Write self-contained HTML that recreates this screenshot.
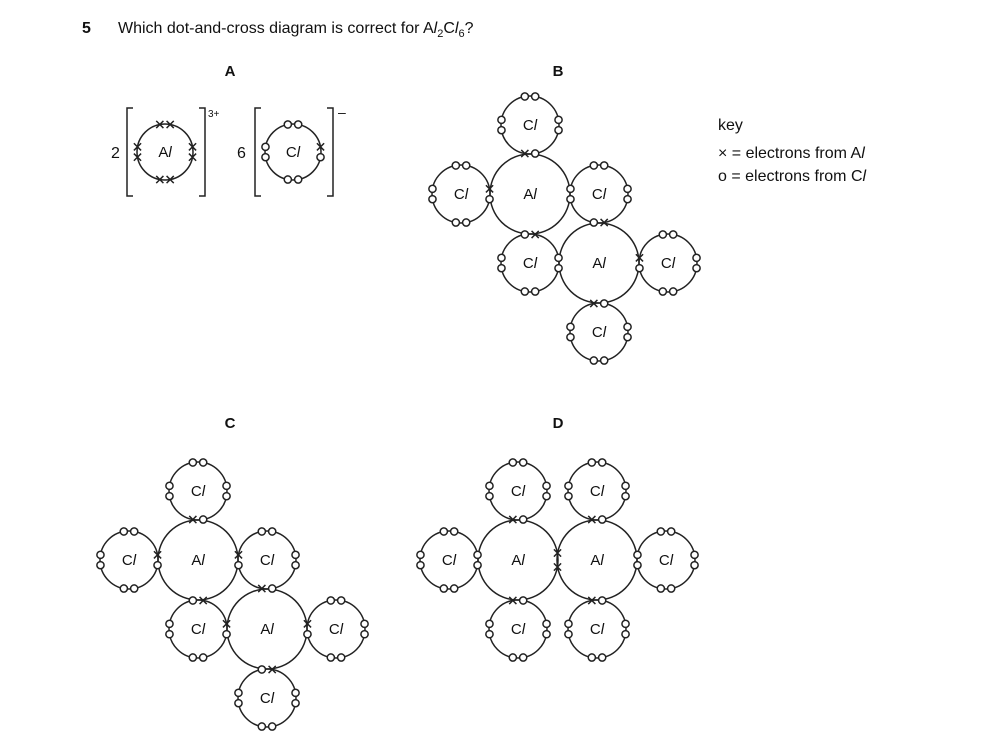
<!DOCTYPE html>
<html><head><meta charset="utf-8"><style>
html,body{margin:0;padding:0;background:#fff}
svg{display:block}
text{font-family:"Liberation Sans",sans-serif;fill:#111}
</style></head><body>
<svg id="s" width="990" height="744" viewBox="0 0 990 744">
<text x="82" y="33" font-size="16" font-weight="bold">5</text>
<text x="118" y="33" font-size="16">Which dot-and-cross diagram is correct for A<tspan font-style="italic">l</tspan><tspan font-size="11" dy="4">2</tspan><tspan dy="-4">C</tspan><tspan font-style="italic">l</tspan><tspan font-size="11" dy="4">6</tspan><tspan dy="-4">?</tspan></text>
<g font-size="15" font-weight="bold" text-anchor="middle">
<text x="230" y="76">A</text><text x="558" y="76">B</text><text x="230" y="428">C</text><text x="558" y="428">D</text>
</g>
<text x="718" y="130" font-size="16">key</text>
<text x="718" y="158" font-size="16">× = electrons from A<tspan font-style="italic">l</tspan></text>
<text x="718" y="181" font-size="16">o = electrons from C<tspan font-style="italic">l</tspan></text>
<g font-size="16">
<text x="111" y="158">2</text><text x="237" y="158">6</text>
<text x="208" y="117" font-size="10">3+</text><text x="338" y="117" font-size="14">–</text>
</g>
<g fill="none" stroke="#222" stroke-width="1.5">
<path d="M133 108H127V196H133M199 108H205V196H199"/>
<path d="M261 108H255V196H261M327 108H333V196H327"/>
</g>
<g font-size="15" text-anchor="middle" id="labels">
<text x="165" y="157">A<tspan font-style="italic">l</tspan></text>
<text x="293" y="157">C<tspan font-style="italic">l</tspan></text>
<!-- B -->
<text x="530" y="130">C<tspan font-style="italic">l</tspan></text>
<text x="461" y="199">C<tspan font-style="italic">l</tspan></text>
<text x="530" y="199">A<tspan font-style="italic">l</tspan></text>
<text x="599" y="199">C<tspan font-style="italic">l</tspan></text>
<text x="530" y="268">C<tspan font-style="italic">l</tspan></text>
<text x="599" y="268">A<tspan font-style="italic">l</tspan></text>
<text x="668" y="268">C<tspan font-style="italic">l</tspan></text>
<text x="599" y="337">C<tspan font-style="italic">l</tspan></text>
<!-- C -->
<text x="198" y="496">C<tspan font-style="italic">l</tspan></text>
<text x="129" y="565">C<tspan font-style="italic">l</tspan></text>
<text x="198" y="565">A<tspan font-style="italic">l</tspan></text>
<text x="267" y="565">C<tspan font-style="italic">l</tspan></text>
<text x="198" y="634">C<tspan font-style="italic">l</tspan></text>
<text x="267" y="634">A<tspan font-style="italic">l</tspan></text>
<text x="336" y="634">C<tspan font-style="italic">l</tspan></text>
<text x="267" y="703">C<tspan font-style="italic">l</tspan></text>
<!-- D -->
<text x="518" y="496">C<tspan font-style="italic">l</tspan></text>
<text x="597" y="496">C<tspan font-style="italic">l</tspan></text>
<text x="449" y="565">C<tspan font-style="italic">l</tspan></text>
<text x="518" y="565">A<tspan font-style="italic">l</tspan></text>
<text x="597" y="565">A<tspan font-style="italic">l</tspan></text>
<text x="666" y="565">C<tspan font-style="italic">l</tspan></text>
<text x="518" y="634">C<tspan font-style="italic">l</tspan></text>
<text x="597" y="634">C<tspan font-style="italic">l</tspan></text>
</g>
<g id="g" fill="none" stroke="#222" stroke-width="1.5"></g>
</svg>
<script>
var g=document.getElementById('g'),NS='http://www.w3.org/2000/svg';
function el(t,a){var e=document.createElementNS(NS,t);for(var k in a)e.setAttribute(k,a[k]);g.appendChild(e);return e;}
function ring(x,y,r){el('circle',{cx:x,cy:y,r:r});}
function o(x,y){el('circle',{cx:x,cy:y,r:3.6,fill:'#fff'});}
function X(x,y){var d=3.6;el('path',{d:'M'+(x-d)+' '+(y-d)+'L'+(x+d)+' '+(y+d)+'M'+(x-d)+' '+(y+d)+'L'+(x+d)+' '+(y-d)});}
var DIR={N:-Math.PI/2,S:Math.PI/2,E:0,W:Math.PI};
// spec: pair string, first char is the one at smaller x (N/S) or smaller y (E/W)
function pair(cx,cy,r,d,s){var a=DIR[d],da=5.2/r;var p=[a-da,a+da].map(function(t){return[cx+r*Math.cos(t),cy+r*Math.sin(t)]});
p.sort(function(u,v){return (d=='N'||d=='S')?u[0]-v[0]:u[1]-v[1]});
for(var i=0;i<2;i++){(s[i]=='x'?X:o)(p[i][0],p[i][1]);}}
function atom(cx,cy,r,spec){ring(cx,cy,r);}
function cl(cx,cy,spec){ring(cx,cy,29);var d=['N','E','S','W'];for(var i=0;i<4;i++){var s=(spec&&spec[d[i]])||'oo';pair(cx,cy,29,d[i],s);}}
// A
ring(165,152,28);['N','E','S','W'].forEach(function(d){pair(165,152,28,d,'xx');});
ring(293,152,28);['N','S','W'].forEach(function(d){pair(293,152,28,d,'oo');});pair(293,152,28,'E','xo');
// B
ring(530,194,40);ring(599,263,40);
cl(530,125,{S:'xo'});cl(461,194,{E:'xo'});cl(599,194,{W:'oo',S:'ox'});
cl(530,263,{N:'ox',E:'oo'});cl(668,263,{W:'xo'});cl(599,332,{N:'xo'});
// C
ring(198,560,40);ring(267,629,40);
cl(198,491,{S:'xo'});cl(129,560,{E:'xo'});cl(267,560,{W:'xo',S:'xo'});
cl(198,629,{N:'ox',E:'xo'});cl(336,629,{W:'xo'});cl(267,698,{N:'ox'});
// D
ring(518,560,40);ring(597,560,40);
cl(518,491,{S:'xo'});cl(597,491,{S:'xo'});cl(449,560,{E:'oo'});cl(666,560,{W:'oo'});
cl(518,629,{N:'xo'});cl(597,629,{N:'xo'});
X(557.5,553);X(557.5,567);
</script>
</body></html>
